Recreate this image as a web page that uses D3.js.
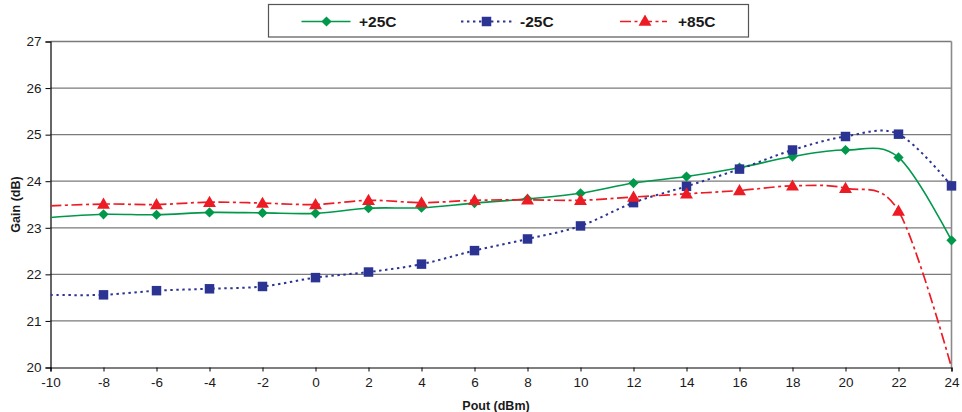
<!DOCTYPE html>
<html>
<head>
<meta charset="utf-8">
<script src="https://cdn.jsdelivr.net/npm/d3@7/dist/d3.min.js"></script>
<style>
  html, body { margin: 0; padding: 0; background: #fff; }
  svg { display: block; font-family: "Liberation Sans", Arial, sans-serif; }
</style>
</head>
<body>
<svg id="chart" width="962" height="412"></svg>
<script>
// Output power (dBm) sample points
const poutDbm = [-10, -8, -6, -4, -2, 0, 2, 4, 6, 8, 10, 12, 14, 16, 18, 20, 22, 24];

// Gain (dB) at each temperature
const gain25C  = [23.22, 23.29, 23.28, 23.33, 23.32, 23.31, 23.42, 23.43, 23.53, 23.62, 23.74, 23.96, 24.10, 24.29, 24.53, 24.67, 24.51, 22.73];
const gainM25C = [21.56, 21.56, 21.65, 21.69, 21.74, 21.93, 22.05, 22.22, 22.51, 22.76, 23.04, 23.54, 23.89, 24.26, 24.67, 24.96, 25.01, 23.90];
const gain85C  = [23.47, 23.51, 23.50, 23.55, 23.53, 23.50, 23.59, 23.54, 23.59, 23.60, 23.59, 23.66, 23.73, 23.80, 23.90, 23.85, 23.36, 20.00];

const seriesNames = ["+25C", "-25C", "+85C"];
const xTicks = [-10, -8, -6, -4, -2, 0, 2, 4, 6, 8, 10, 12, 14, 16, 18, 20, 22, 24];
const yTicks = [20, 21, 22, 23, 24, 25, 26, 27];

const series = [
  { name: seriesNames[0], values: gain25C,  color: "#00984a", dash: null,       width: 1.6, marker: "diamond" },
  { name: seriesNames[1], values: gainM25C, color: "#2b3492", dash: "2.4,3.6",  width: 2.0, marker: "square" },
  { name: seriesNames[2], values: gain85C,  color: "#ed1c24", dash: "11,3.5,3,3.5", width: 1.7, marker: "triangle" }
];

const svg = d3.select("#chart");
const plotLeft = 50.5, plotRight = 951.5, plotTop = 41.5, plotBottom = 367.5;

const x = d3.scaleLinear().domain([-10, 24]).range([plotLeft, plotRight]);
const y = d3.scaleLinear().domain([20, 27]).range([plotBottom, plotTop]);

// Horizontal gridlines
svg.append("g").selectAll("line")
  .data(yTicks.filter(v => v > 20))
  .join("line")
  .attr("x1", plotLeft).attr("x2", plotRight)
  .attr("y1", d => y(d)).attr("y2", d => y(d))
  .attr("stroke", "#7a7a7a")
  .attr("stroke-width", d => d === 27 ? 1.6 : 1.2);

// Right border of plot area
svg.append("line")
  .attr("x1", plotRight).attr("x2", plotRight)
  .attr("y1", plotTop).attr("y2", plotBottom)
  .attr("stroke", "#8a8a8a").attr("stroke-width", 1.6);

// Axes (plain hyphen for negatives, integer labels)
const fmt = d => String(d);
const yAxis = d3.axisLeft(y).tickValues(yTicks).tickFormat(fmt).tickSize(5).tickPadding(4);
const xAxis = d3.axisBottom(x).tickValues(xTicks).tickFormat(fmt).tickSize(4).tickPadding(6);

const gy = svg.append("g").attr("transform", `translate(${plotLeft},0)`).call(yAxis);
const gx = svg.append("g").attr("transform", `translate(0,${plotBottom})`).call(xAxis);
[gx, gy].forEach(g => {
  g.select(".domain").attr("stroke", "#000").attr("stroke-width", 1.2);
  g.selectAll(".tick line").attr("stroke", "#000").attr("stroke-width", 1);
  g.selectAll(".tick text")
    .attr("fill", "#1a1a1a")
    .style("font-family", "'Liberation Sans', Arial, sans-serif")
    .style("font-size", "13.5px");
});

// Axis titles
svg.append("text")
  .attr("x", 496).attr("y", 409.5)
  .attr("text-anchor", "middle")
  .style("font-weight", "bold").style("font-size", "12.5px")
  .attr("fill", "#1a1a1a")
  .text("Pout (dBm)");

svg.append("text")
  .attr("transform", `translate(19.5,${(plotTop + plotBottom) / 2}) rotate(-90)`)
  .attr("text-anchor", "middle")
  .style("font-weight", "bold").style("font-size", "12.5px")
  .attr("fill", "#1a1a1a")
  .text("Gain (dB)");

// Clip for the traces
svg.append("clipPath").attr("id", "plotClip")
  .append("rect").attr("x", plotLeft).attr("y", plotTop)
  .attr("width", plotRight - plotLeft).attr("height", plotBottom - plotTop + 1);

const symbolFor = {
  diamond: d3.symbol().type(d3.symbolSquare).size(52),
  square: d3.symbol().type(d3.symbolSquare).size(90),
  triangle: d3.symbol().type(d3.symbolTriangle).size(72)
};
const markerRotate = { diamond: 45, square: 0, triangle: 0 };
const markerShift = { diamond: 0, square: 0, triangle: 1 };

const line = d3.line()
  .x(d => x(d[0]))
  .y(d => y(d[1]))
  .curve(d3.curveCardinal.tension(0));

series.forEach(s => {
  const pts = poutDbm.map((p, i) => [p, s.values[i]]);
  const g = svg.append("g");
  g.append("path")
    .attr("d", line(pts))
    .attr("clip-path", "url(#plotClip)")
    .attr("fill", "none")
    .attr("stroke", s.color)
    .attr("stroke-width", s.width)
    .attr("stroke-dasharray", s.dash);
  // markers start at -8 dBm; the -10 dBm point is plotted without one
  g.selectAll("path.mk")
    .data(pts.slice(1).filter(d => d[1] > 20.05))
    .join("path")
    .attr("class", "mk")
    .attr("transform", d => `translate(${x(d[0])},${y(d[1]) + markerShift[s.marker]}) rotate(${markerRotate[s.marker]})`)
    .attr("d", symbolFor[s.marker])
    .attr("fill", s.color);
});

// Legend
const lg = svg.append("g");
lg.append("rect")
  .attr("x", 268.5).attr("y", 4.5).attr("width", 480).attr("height", 32.5)
  .attr("fill", "#fff").attr("stroke", "#555").attr("stroke-width", 1.2);

const legendItems = [
  { s: series[0], x1: 301.5, x2: 350.5, mx: 326.5, tx: 359 },
  { s: series[1], x1: 461,   x2: 513,   mx: 486.5, tx: 520 },
  { s: series[2], x1: 620,   x2: 667,   mx: 645,   tx: 678 }
];
legendItems.forEach(it => {
  const ly = 21.5;
  lg.append("line")
    .attr("x1", it.x1).attr("x2", it.x2).attr("y1", ly).attr("y2", ly)
    .attr("stroke", it.s.color).attr("stroke-width", it.s.width)
    .attr("stroke-dasharray", it.s.dash);
  lg.append("path")
    .attr("transform", `translate(${it.mx},${ly + markerShift[it.s.marker] * 0.5}) rotate(${markerRotate[it.s.marker]})`)
    .attr("d", symbolFor[it.s.marker])
    .attr("fill", it.s.color);
  lg.append("text")
    .attr("x", it.tx).attr("y", ly + 5.5)
    .style("font-weight", "bold").style("font-size", "15.5px")
    .attr("fill", "#1a1a1a")
    .text(it.s.name);
});
</script>
</body>
</html>
